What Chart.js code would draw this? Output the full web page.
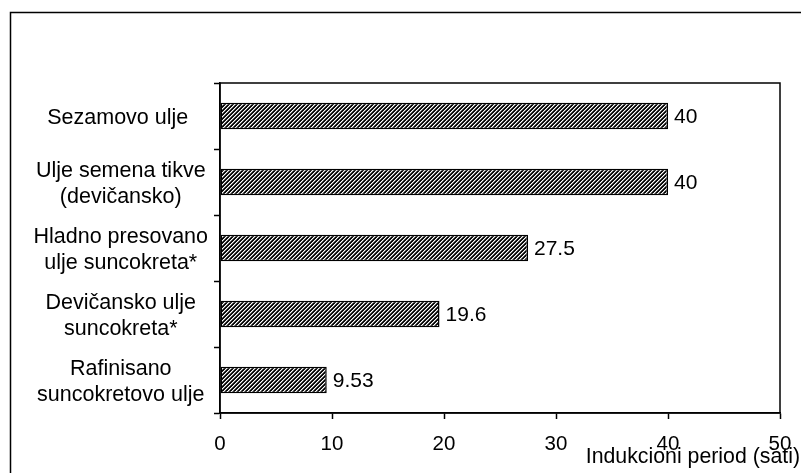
<!DOCTYPE html>
<html>
<head>
<meta charset="utf-8">
<script src="https://cdn.jsdelivr.net/npm/chart.js@4/dist/chart.umd.min.js"></script>
<style>
  html, body { margin: 0; padding: 0; background: #fff; }
  #wrap { position: relative; width: 801px; height: 473px; }
</style>
</head>
<body>
<div id="wrap"><canvas id="c" width="801" height="473"></canvas></div>
<script>
// Oils (top to bottom) and their oxidative induction period in hours
const categories = [
  ["Sezamovo ulje "],
  ["Ulje semena tikve", "(devičansko)"],
  ["Hladno presovano", "ulje suncokreta*"],
  ["Devičansko ulje", "suncokreta*"],
  ["Rafinisano", "suncokretovo ulje"]
];
const inductionHours = [40, 40, 27.5, 19.6, 9.53];
const valueLabels = ["40", "40", "27.5", "19.6", "9.53"];
const xMin = 0, xMax = 50, xStep = 10;
const axisTitle = "Indukcioni period (sati)";

const FONT = "'Liberation Sans', Arial, sans-serif";

const canvas = document.getElementById('c');
const ctx = canvas.getContext('2d');

// Diagonal "/" hatch fill for the bars
function makeHatch() {
  const t = document.createElement('canvas');
  t.width = 4; t.height = 4;
  const g = t.getContext('2d');
  const shades = ['#000', '#1a1a1a', '#fff', '#7a7a7a'];
  for (let y = 0; y < 4; y++) {
    for (let x = 0; x < 4; x++) {
      g.fillStyle = shades[(x + y) % 4];
      g.fillRect(x, y, 1, 1);
    }
  }
  return ctx.createPattern(t, 'repeat');
}

// White page, outer frame and the boxed plot area
const framePlugin = {
  id: 'frame',
  beforeDraw(chart) {
    const c = chart.ctx;
    c.save();
    c.fillStyle = '#fff';
    c.fillRect(0, 0, chart.width, chart.height);
    c.strokeStyle = '#000';
    c.lineWidth = 1.5;
    c.beginPath();
    c.moveTo(10.5, chart.height + 2);
    c.lineTo(10.5, 12.5);
    c.lineTo(chart.width + 2, 12.5);
    c.stroke();
    c.restore();
  },
  afterDraw(chart) {
    const a = chart.chartArea;
    const c = chart.ctx;
    c.save();
    c.strokeStyle = '#000';
    c.lineWidth = 1.5;
    c.strokeRect(a.left, a.top, a.right - a.left, a.bottom - a.top);
    // axis title, placed at the lower right corner
    c.fillStyle = '#000';
    c.font = '21.3px ' + FONT;
    c.textAlign = 'right';
    c.textBaseline = 'alphabetic';
    c.fillText(axisTitle, chart.width - 1, 463);
    c.restore();
  }
};

// Value written just past the end of each bar
const valuePlugin = {
  id: 'values',
  afterDatasetsDraw(chart) {
    const c = chart.ctx;
    const meta = chart.getDatasetMeta(0);
    c.save();
    c.fillStyle = '#000';
    c.font = '21px ' + FONT;
    c.textAlign = 'left';
    c.textBaseline = 'middle';
    meta.data.forEach((bar, i) => {
      c.fillText(valueLabels[i], bar.x + 6, bar.y + 1);
    });
    c.restore();
  }
};

new Chart(ctx, {
  type: 'bar',
  data: {
    labels: categories,
    datasets: [{
      data: inductionHours,
      backgroundColor: makeHatch(),
      borderColor: '#000',
      borderWidth: 1.5,
      borderSkipped: false,
      categoryPercentage: 1,
      barPercentage: 0.4
    }]
  },
  options: {
    indexAxis: 'y',
    responsive: false,
    animation: false,
    layout: { padding: { top: 83, right: 21, bottom: 0, left: 0 } },
    plugins: { legend: { display: false }, tooltip: { enabled: false } },
    scales: {
      x: {
        min: xMin, max: xMax,
        ticks: { stepSize: xStep, color: '#000', font: { family: FONT, size: 20.5 }, padding: 13 },
        grid: { drawOnChartArea: false, tickLength: 6, color: '#000', tickColor: '#000', tickWidth: 1.5 },
        border: { color: '#000', width: 1.5 },
        afterFit(s) { s.height = 60; s.paddingLeft = 0; s.paddingRight = 0; }
      },
      y: {
        ticks: {
          color: '#000', font: { family: FONT, size: 21.5, lineHeight: 1.2 },
          crossAlign: 'center', padding: 6, autoSkip: false, labelOffset: 2
        },
        grid: { offset: true, drawOnChartArea: false, tickLength: 6, color: '#000', tickColor: '#000', tickWidth: 1.5 },
        border: { color: '#000', width: 1.5 },
        afterFit(s) { s.width = 220; s.paddingTop = 0; s.paddingBottom = 0; }
      }
    }
  },
  plugins: [framePlugin, valuePlugin]
});
</script>
</body>
</html>
